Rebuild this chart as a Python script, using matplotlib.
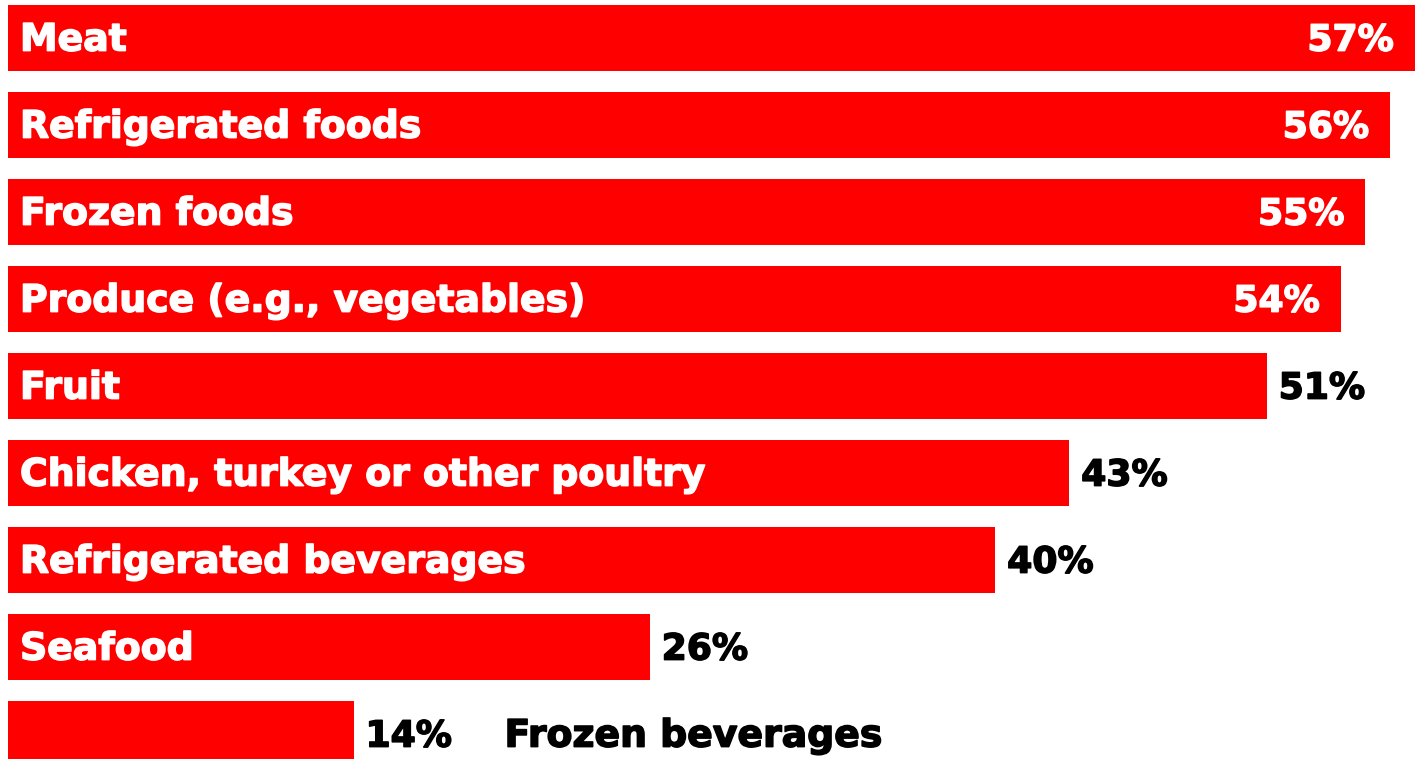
import matplotlib
matplotlib.use("Agg")
import matplotlib.pyplot as plt
import matplotlib.patheffects as pe

categories = ["Meat", "Refrigerated foods", "Frozen foods", "Produce (e.g., vegetables)",
              "Fruit", "Chicken, turkey or other poultry", "Refrigerated beverages",
              "Seafood", "Frozen beverages"]
values = [57, 56, 55, 54, 51, 43, 40, 26, 14]
inside_value = [True, True, True, True, False, False, False, False, False]

RED = "#ff0000"
FONT = "DejaVu Sans"
FS = 27.2
FS_VAL = 26


def txt(ax, x, y, s, color, ha, fs=FS):
    ax.text(x, y, s, color=color, fontsize=fs, fontweight="bold", family=FONT,
            va="center", ha=ha,
            path_effects=[pe.withStroke(linewidth=1.1, foreground=color)])


fig = plt.figure(figsize=(14.16, 7.59), dpi=100)
ax = fig.add_axes([0, 0, 1, 1])
ypos = list(range(len(values)))
ax.barh(ypos, values, height=0.75, color=RED, left=0)
ax.set_xlim(-0.324, 57.05)
ax.set_ylim(8.287, -0.437)
ax.axis("off")

px = 57.37 / 1416  # data units per pixel
yo = 0.03
for y, cat, v, inside in zip(ypos, categories, values, inside_value):
    if cat == "Frozen beverages":
        txt(ax, v + 12 * px, y + yo, f"{v}%", "black", "left", FS_VAL)
        txt(ax, v + 151 * px, y + yo, cat, "black", "left")
        continue
    txt(ax, 12 * px, y + yo, cat, "white", "left")
    if inside:
        txt(ax, v - 21 * px, y + yo, f"{v}%", "white", "right", FS_VAL)
    else:
        txt(ax, v + 12 * px, y + yo, f"{v}%", "black", "left", FS_VAL)

fig.savefig("out.png", dpi=100, facecolor="white")
